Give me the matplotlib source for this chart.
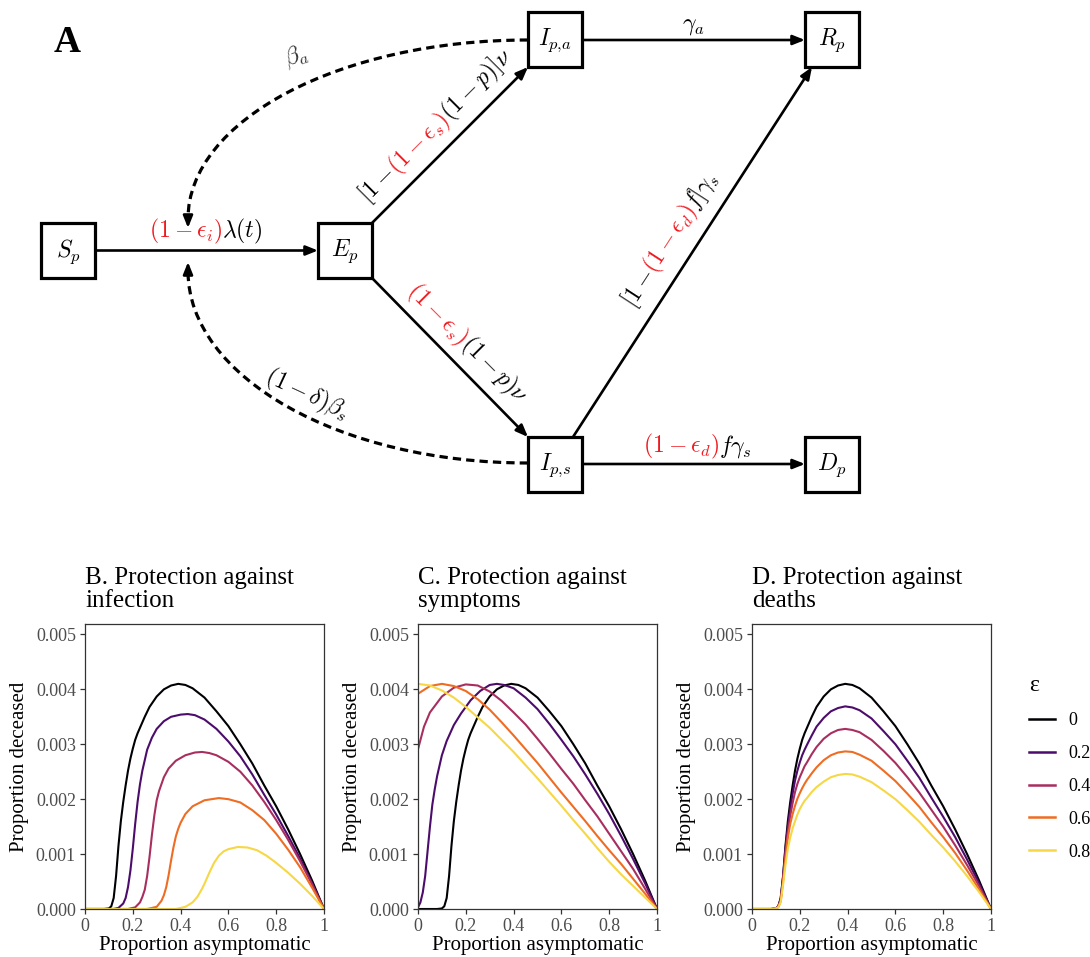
import numpy as np
import matplotlib
matplotlib.use('Agg')
import matplotlib.pyplot as plt
from matplotlib.patches import Rectangle, FancyArrowPatch, PathPatch
from matplotlib.path import Path
from matplotlib.lines import Line2D
from matplotlib import cm

plt.rcParams['mathtext.fontset'] = 'cm'
plt.rcParams['font.family'] = ['Liberation Serif', 'DejaVu Serif']

# ---------------- data (proportion deceased, in thousandths) ----------------
eps_labels = ['0', '0.2', '0.4', '0.6', '0.8']
per_mille = 1e-3

# no protection (epsilon = 0), same in all three panels
x_eps0 = [0, 0.05, 0.08, 0.1, 0.11, 0.12, 0.13, 0.14, 0.15, 0.16, 0.17, 0.18, 0.19, 0.2,
          0.21, 0.22, 0.23, 0.25, 0.27, 0.3, 0.33, 0.36, 0.39, 0.42, 0.45, 0.5, 0.55, 0.6,
          0.65, 0.7, 0.75, 0.8, 0.85, 0.9, 0.95, 1]
y_eps0 = [0, 0, 0, 0.01, 0.05, 0.2, 0.6, 1.15, 1.6, 1.95, 2.25, 2.52, 2.74, 2.92,
          3.08, 3.2, 3.3, 3.5, 3.68, 3.87, 4.0, 4.07, 4.1, 4.08, 4.02, 3.85, 3.6, 3.33,
          3.0, 2.65, 2.25, 1.87, 1.45, 1.0, 0.52, 0]

# B. protection against infection
xB_02 = [0, 0.12, 0.14, 0.16, 0.17, 0.18, 0.19, 0.2, 0.21, 0.22, 0.23, 0.24, 0.26, 0.28, 0.3,
         0.33, 0.36, 0.4, 0.43, 0.46, 0.5, 0.55, 0.6, 0.65, 0.7, 0.75, 0.8, 0.85, 0.9, 0.95, 1]
yB_02 = [0, 0, 0.02, 0.1, 0.2, 0.4, 0.7, 1.1, 1.55, 1.95, 2.27, 2.52, 2.9, 3.12, 3.28,
         3.42, 3.5, 3.54, 3.55, 3.53, 3.45, 3.28, 3.05, 2.78, 2.45, 2.08, 1.72, 1.33, 0.92, 0.47, 0]
xB_04 = [0, 0.18, 0.21, 0.23, 0.24, 0.25, 0.26, 0.27, 0.28, 0.29, 0.3, 0.31, 0.33, 0.35, 0.38,
         0.42, 0.46, 0.49, 0.52, 0.55, 0.6, 0.65, 0.7, 0.75, 0.8, 0.85, 0.9, 0.95, 1]
yB_04 = [0, 0, 0.03, 0.12, 0.22, 0.35, 0.6, 0.95, 1.35, 1.7, 1.98, 2.15, 2.4, 2.56, 2.7,
         2.8, 2.85, 2.86, 2.84, 2.8, 2.68, 2.5, 2.25, 1.95, 1.62, 1.26, 0.87, 0.45, 0]
xB_06 = [0, 0.26, 0.3, 0.32, 0.33, 0.34, 0.35, 0.36, 0.37, 0.38, 0.39, 0.4, 0.42, 0.45, 0.5,
         0.56, 0.6, 0.65, 0.7, 0.75, 0.8, 0.85, 0.9, 0.95, 1]
yB_06 = [0, 0, 0.04, 0.15, 0.25, 0.4, 0.62, 0.88, 1.12, 1.32, 1.46, 1.57, 1.73, 1.87, 1.98,
         2.02, 2.0, 1.94, 1.8, 1.62, 1.37, 1.08, 0.76, 0.39, 0]
xB_08 = [0, 0.38, 0.42, 0.45, 0.47, 0.49, 0.5, 0.52, 0.54, 0.56, 0.58, 0.6, 0.64, 0.68, 0.72,
         0.76, 0.8, 0.85, 0.9, 0.95, 1]
yB_08 = [0, 0, 0.04, 0.12, 0.22, 0.37, 0.46, 0.66, 0.84, 0.97, 1.05, 1.09, 1.13, 1.12, 1.07,
         0.97, 0.84, 0.66, 0.46, 0.24, 0]

# C. protection against symptoms
xC_02 = [0, 0.01, 0.02, 0.03, 0.04, 0.05, 0.06, 0.07, 0.08, 0.1, 0.12, 0.15, 0.18, 0.22, 0.26,
         0.3, 0.33, 0.36, 0.4, 0.45, 0.5, 0.55, 0.6, 0.65, 0.7, 0.75, 0.8, 0.85, 0.9, 0.95, 1]
yC_02 = [0.03, 0.12, 0.3, 0.6, 1.05, 1.5, 1.9, 2.18, 2.42, 2.8, 3.06, 3.35, 3.56, 3.8, 3.97,
         4.08, 4.1, 4.08, 4.02, 3.85, 3.64, 3.37, 3.08, 2.78, 2.45, 2.1, 1.73, 1.33, 0.91, 0.47, 0]
xC_04 = [0, 0.025, 0.05, 0.1, 0.15, 0.2, 0.25, 0.3, 0.35, 0.4, 0.45, 0.5, 0.55, 0.6, 0.65, 0.7,
         0.75, 0.8, 0.85, 0.9, 0.95, 1]
yC_04 = [2.91, 3.32, 3.58, 3.87, 4.03, 4.09, 4.07, 3.96, 3.79, 3.58, 3.36, 3.1, 2.83, 2.55, 2.28,
         1.98, 1.69, 1.37, 1.05, 0.73, 0.37, 0]
x_grid = [0, 0.05, 0.1, 0.15, 0.2, 0.25, 0.3, 0.35, 0.4, 0.45, 0.5, 0.55, 0.6, 0.65, 0.7,
          0.75, 0.8, 0.85, 0.9, 0.95, 1]
yC_06 = [3.92, 4.06, 4.1, 4.06, 3.97, 3.82, 3.63, 3.4, 3.16, 2.91, 2.66, 2.39, 2.12, 1.86, 1.6,
         1.33, 1.07, 0.82, 0.55, 0.28, 0]
yC_08 = [4.1, 4.07, 3.98, 3.85, 3.68, 3.49, 3.3, 3.08, 2.86, 2.62, 2.38, 2.13, 1.88, 1.62, 1.37,
         1.11, 0.86, 0.63, 0.42, 0.21, 0]

# D. protection against deaths (same x as epsilon = 0)
yD_02 = [0, 0, 0, 0.01, 0.05, 0.18, 0.58, 1.1, 1.5, 1.83, 2.1, 2.34, 2.52, 2.67,
         2.8, 2.9, 2.99, 3.16, 3.32, 3.48, 3.6, 3.66, 3.69, 3.67, 3.62, 3.47, 3.24, 3.0,
         2.7, 2.39, 2.03, 1.68, 1.31, 0.9, 0.47, 0]
yD_04 = [0, 0, 0, 0.01, 0.04, 0.16, 0.55, 1.02, 1.4, 1.7, 1.93, 2.13, 2.28, 2.4,
         2.5, 2.6, 2.67, 2.82, 2.95, 3.1, 3.2, 3.26, 3.28, 3.26, 3.22, 3.08, 2.88, 2.66,
         2.4, 2.12, 1.81, 1.5, 1.16, 0.8, 0.42, 0]
yD_06 = [0, 0, 0, 0.01, 0.04, 0.14, 0.5, 0.92, 1.3, 1.55, 1.73, 1.88, 2.01, 2.11,
         2.2, 2.28, 2.35, 2.47, 2.58, 2.71, 2.8, 2.85, 2.87, 2.86, 2.81, 2.7, 2.52, 2.33,
         2.1, 1.86, 1.58, 1.31, 1.02, 0.7, 0.36, 0]
yD_08 = [0, 0, 0, 0.01, 0.03, 0.12, 0.44, 0.8, 1.1, 1.3, 1.47, 1.6, 1.72, 1.82,
         1.9, 1.97, 2.02, 2.13, 2.22, 2.32, 2.4, 2.44, 2.46, 2.45, 2.41, 2.31, 2.16, 2.0,
         1.8, 1.59, 1.35, 1.12, 0.87, 0.6, 0.31, 0]

panels = [
    ("B. Protection against\ninfection",
     [(x_eps0, y_eps0), (xB_02, yB_02), (xB_04, yB_04), (xB_06, yB_06), (xB_08, yB_08)]),
    ("C. Protection against\nsymptoms",
     [(x_eps0, y_eps0), (xC_02, yC_02), (xC_04, yC_04), (x_grid, yC_06), (x_grid, yC_08)]),
    ("D. Protection against\ndeaths",
     [(x_eps0, y_eps0), (x_eps0, yD_02), (x_eps0, yD_04), (x_eps0, yD_06), (x_eps0, yD_08)]),
]
x_ticks = [0, 0.2, 0.4, 0.6, 0.8, 1]
x_tick_labels = ['0', '0.2', '0.4', '0.6', '0.8', '1']
y_ticks = [0, 0.001, 0.002, 0.003, 0.004, 0.005]
y_tick_labels = ['0.000', '0.001', '0.002', '0.003', '0.004', '0.005']

colors = [cm.inferno(v) for v in (0.0, 0.225, 0.45, 0.675, 0.9)]

# ---------------- figure ----------------
W, H = 1090, 957
fig = plt.figure(figsize=(W / 100, H / 100), dpi=100)

# ---- panel A: compartment diagram, drawn in pixel-like coordinates ----
axA = fig.add_axes([0, 0, 1, 1], zorder=0)
axA.set_xlim(0, W)
axA.set_ylim(H, 0)
axA.axis('off')
renderer = fig.canvas.get_renderer()

RED = '#F0191E'
FS = 17
BOX_LW = 2.3
ARR_LW = 1.9

boxes = {
    'S': (41, 223, r'$S_p$'),
    'E': (318, 223, r'$E_p$'),
    'Ia': (528, 12, r'$I_{p,\!a}$'),
    'R': (805, 12, r'$R_p$'),
    'Is': (528, 437, r'$I_{p,\!s}$'),
    'D': (805, 437, r'$D_p$'),
}
BW, BH = 54, 55
for key, (x0, y0, lab) in boxes.items():
    axA.add_patch(Rectangle((x0, y0), BW, BH, facecolor='white', edgecolor='black',
                            lw=BOX_LW, zorder=3))
    axA.text(x0 + BW / 2, y0 + BH / 2 + 1, lab, fontsize=FS, ha='center', va='center', zorder=4)


def arrow(p1, p2, ls='-'):
    a = FancyArrowPatch(p1, p2, arrowstyle='-|>,head_length=0.55,head_width=0.22',
                        mutation_scale=13, lw=ARR_LW, color='black', shrinkA=0, shrinkB=0,
                        linestyle=ls, zorder=2)
    axA.add_patch(a)


arrow((96, 250.5), (318, 250.5))
arrow((372, 223), (528, 67))
arrow((372, 278), (528, 437))
arrow((582, 40), (805, 40))
arrow((573, 437), (812, 67))
arrow((582, 464), (805, 464))

# dashed feedback arcs (quarter ellipses)
k = 0.5523


def dashed_arc(start, end):
    (x0, y0), (x1, y1) = start, end
    verts = [(x0, y0), (x0 - (x0 - x1) * k, y0), (x1, y1 - (y1 - y0) * k), (x1, y1)]
    path = Path(verts, [Path.MOVETO, Path.CURVE4, Path.CURVE4, Path.CURVE4])
    axA.add_patch(PathPatch(path, fill=False, lw=2.3, ls=(0, (2.6, 1.6)), color='black', zorder=1))
    dy = 1 if y1 > y0 else -1
    arrow((x1, y1 - dy * 2), (x1, y1 + dy * 9))


dashed_arc((528, 40), (188, 219))
dashed_arc((528, 463), (188, 271))


def mixed_text(cx, cy, pieces, angle=0, fs=FS):
    widths = []
    for s, c in pieces:
        t = axA.text(0, 0, s, fontsize=fs)
        widths.append(t.get_window_extent(renderer).width)
        t.remove()
    total = sum(widths)
    th = np.deg2rad(angle)
    ux, uy = np.cos(th), -np.sin(th)
    # shift from visual centre to baseline
    d = 0.28 * fs * 100 / 72
    bx, by = cx + d * np.sin(th), cy + d * np.cos(th)
    pos = -total / 2
    for (s, c), w in zip(pieces, widths):
        axA.text(bx + pos * ux, by + pos * uy, s, color=c, fontsize=fs, rotation=angle,
                 rotation_mode='anchor', ha='left', va='baseline', zorder=5)
        pos += w


K = 'black'
mixed_text(206, 231, [(r'$(1-\epsilon_i)$', RED), (r'$\lambda(t)$', K)])
mixed_text(436, 126, [(r'$[1-$', K), (r'$(1-\epsilon_s)$', RED), (r'$(1-p)]\nu$', K)], angle=45)
mixed_text(467, 343, [(r'$(1-\epsilon_s)$', RED), (r'$(1-p)\nu$', K)], angle=-45)
mixed_text(670, 240, [(r'$[1-$', K), (r'$(1-\epsilon_d)$', RED), (r'$f]\gamma_s$', K)], angle=57)
mixed_text(697, 446, [(r'$(1-\epsilon_d)$', RED), (r'$f\gamma_s$', K)])
mixed_text(693, 23, [(r'$\gamma_a$', K)])
mixed_text(296, 55, [(r'$\beta_a$', '#333333')], angle=18)
mixed_text(307, 394, [(r'$(1-\delta)\beta_s$', K)], angle=-25)

axA.text(67, 42, 'A', fontsize=27, fontweight='bold', ha='center', va='center',
         family=['Liberation Serif', 'DejaVu Serif'])

# ---- panels B, C, D ----
lefts = [85, 418, 752]
ax_w, ax_h = 239, 285
bottom = 909
for (title, series), left in zip(panels, lefts):
    ax = fig.add_axes([left / W, (H - bottom) / H, ax_w / W, ax_h / H], zorder=2)
    for (xs, ys), col in zip(series, colors):
        ax.plot(xs, np.array(ys) * per_mille, color=col, lw=1.5, solid_joinstyle='round')
    ax.set_xlim(0, 1)
    ax.set_ylim(0, 0.00519)
    ax.set_xticks(x_ticks)
    ax.set_xticklabels(x_tick_labels)
    ax.set_yticks(y_ticks)
    ax.set_yticklabels(y_tick_labels)
    for sp in ax.spines.values():
        sp.set_color('#333333')
        sp.set_linewidth(0.9)
    ax.tick_params(direction='out', length=3.5, width=0.9, color='#333333',
                   labelcolor='#4D4D4D', labelsize=13, pad=3)
    ax.set_ylabel('Proportion deceased', fontsize=15, labelpad=5)
    ax.set_xlabel('Proportion asymptomatic', fontsize=15, labelpad=0.5)
    ax.set_title(title, loc='left', fontsize=18, pad=12, linespacing=1.1)

handles = [Line2D([], [], color=c, lw=1.8) for c in colors]
leg = fig.legend(handles, eps_labels, title='ε', loc='upper left',
                 bbox_to_anchor=(1013 / W, 1 - 659 / H), frameon=False, fontsize=13,
                 title_fontsize=17, handlelength=1.45, handletextpad=0.72, labelspacing=0.88,
                 alignment='left')

fig.savefig('out.png', dpi=100)
